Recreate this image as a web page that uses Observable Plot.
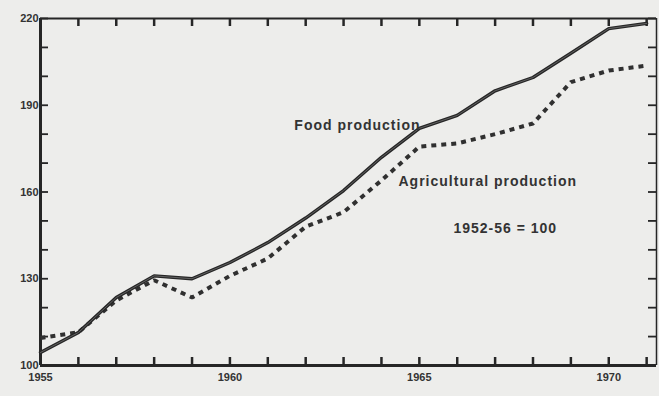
<!DOCTYPE html>
<html>
<head>
<meta charset="utf-8">
<script src="https://cdn.jsdelivr.net/npm/d3@7"></script>
<script src="https://cdn.jsdelivr.net/npm/@observablehq/plot@0.6"></script>
<style>
  html, body { margin: 0; padding: 0; background: #ededeb; }
  #chart svg { display: block; }
</style>
</head>
<body>
<div id="chart"></div>
<script>
// Data (1952-56 = 100)
const years = [1955,1956,1957,1958,1959,1960,1961,1962,1963,1964,1965,1966,1967,1968,1969,1970,1971];
const foodProduction = [104.5,111.4,123.5,131,130,135.6,142.5,151,160.5,172,182,186.5,195,199.6,208,216.5,218.3];
const agriculturalProduction = [109.5,111.5,122.5,129.5,123.5,131,137,148,153,164,175.7,176.8,180,183.7,198,202,203.7];

const xTickLabels = [1955,1960,1965,1970];
const yTickLabels = [100,130,160,190,220];
const yMinorTicks = [100,110,120,130,140,150,160,170,180,190,200,210,220];
const xMinorTicks = years;

const annotationText = ["Food production","Agricultural production","1952-56 = 100"];
const annotationYear = [1961.7,1964.45,1965.9];
const annotationValue = [183,163.6,147.4];

const food = years.map((y,i) => ({year: y, value: foodProduction[i]}));
const agri = years.map((y,i) => ({year: y, value: agriculturalProduction[i]}));
const notes = annotationText.map((t,i) => ({text: t, year: annotationYear[i], value: annotationValue[i]}));

const W = 659, H = 396;
const mL = 40, mR = 3, mT = 18, mB = 31;
const innerW = W - mL - mR, innerH = H - mT - mB;
const tick = 8;
const xEnd = 1971.26;
const ink = "#262626";

const chart = Plot.plot({
  width: W,
  height: H,
  marginLeft: mL,
  marginRight: mR,
  marginTop: mT,
  marginBottom: mB,
  style: {background: "transparent", fontFamily: "'Liberation Sans', Arial, sans-serif", color: ink},
  x: {domain: [1955, xEnd], ticks: xTickLabels, tickFormat: d => String(d), tickSize: 0, tickPadding: 8, label: null},
  y: {domain: [100, 220], ticks: yTickLabels, tickSize: 0, tickPadding: 2, label: null},
  marks: [
    // inward ticks: bottom, top, left, right
    Plot.ruleX(xMinorTicks, {stroke: ink, strokeWidth: 2.5, insetTop: innerH - tick}),
    Plot.ruleX(xMinorTicks, {stroke: ink, strokeWidth: 2.5, insetBottom: innerH - tick}),
    Plot.ruleY(yMinorTicks, {stroke: ink, strokeWidth: 1.8, insetRight: innerW - tick}),
    Plot.ruleY(yMinorTicks, {stroke: ink, strokeWidth: 1.8, insetLeft: innerW - tick}),
    // frame
    Plot.ruleY([220], {stroke: ink, strokeWidth: 2}),
    Plot.ruleX([xEnd], {stroke: ink, strokeWidth: 1.5}),
    Plot.ruleY([100], {stroke: ink, strokeWidth: 3}),
    Plot.ruleX([1955], {stroke: ink, strokeWidth: 3}),
    // series
    Plot.line(agri, {x: "year", y: "value", stroke: "#303030", strokeWidth: 4, strokeDasharray: "5,5", strokeLinecap: "butt", strokeLinejoin: "miter"}),
    Plot.line(food, {x: "year", y: "value", stroke: "#262626", strokeWidth: 3.4, strokeLinejoin: "round"}),
    Plot.line(food, {x: "year", y: "value", stroke: "#707070", strokeWidth: 0.8, strokeLinejoin: "round"}),
    // annotations
    Plot.text(notes, {x: "year", y: "value", text: "text", textAnchor: "start", fontSize: 14, fontWeight: "bold", fill: "#333", stroke: "none"})
  ]
});

chart.querySelectorAll("[aria-label='x-axis tick label'], [aria-label='y-axis tick label']").forEach(g => {
  g.setAttribute("font-size", "11");
  g.setAttribute("font-weight", "bold");
  g.setAttribute("fill", "#333");
});
chart.querySelectorAll("[aria-label='text'] text").forEach(t => t.setAttribute("letter-spacing", "1"));
document.getElementById("chart").appendChild(chart);
</script>
</body>
</html>
